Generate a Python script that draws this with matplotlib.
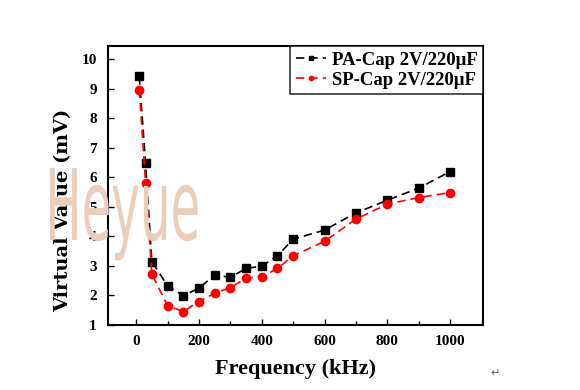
import matplotlib
matplotlib.use("Agg")
import matplotlib.pyplot as plt
import matplotlib.patheffects as pe
from matplotlib.transforms import Affine2D
from matplotlib.ticker import MultipleLocator

# frequency points (kHz)
freq = [10, 30, 50, 100, 150, 200, 250, 300, 350, 400, 450, 500, 600, 700, 800, 900, 1000]
# virtual value (mV)
pa_cap = [9.41, 6.47, 3.14, 2.33, 1.99, 2.24, 2.69, 2.61, 2.91, 2.99, 3.34, 3.90,
          4.21, 4.79, 5.22, 5.63, 6.19]
sp_cap = [8.96, 5.80, 2.72, 1.65, 1.45, 1.79, 2.07, 2.26, 2.58, 2.63, 2.91, 3.34,
          3.83, 4.58, 5.09, 5.31, 5.48]
labels = ["PA-Cap 2V/220\u03bcF", "SP-Cap 2V/220\u03bcF"]

serif = ["Liberation Serif", "DejaVu Serif"]


class Squeeze(pe.AbstractPathEffect):
    # narrows the glyphs horizontally (no narrow sans font installed)
    def __init__(self, sx):
        super().__init__()
        self.sx = sx

    def draw_path(self, renderer, gc, tpath, affine, rgbFace=None):
        renderer.draw_path(gc, tpath, Affine2D().scale(self.sx, 1) + affine, rgbFace)


fig = plt.figure(figsize=(5.8, 3.9), dpi=100)
ax = fig.add_axes([0.186, 0.167, 0.647, 0.715])

# watermark text sits behind the data
fig.text(0.078, 0.385, "Heyue", fontsize=71, color="#e9cebb", va="baseline",
         family="DejaVu Sans", zorder=0, path_effects=[Squeeze(0.49)])

ax.patch.set_alpha(0)
ax.plot(freq, pa_cap, color="black", ls=(0, (5, 3)), lw=1.2, marker="s", ms=6,
        label=labels[0])
ax.plot(freq, sp_cap, color="red", ls=(0, (5, 3)), lw=1.2, marker="o", ms=6,
        label=labels[1])

ax.set_xlim(-90, 1105)
ax.set_ylim(1, 10.44)
ax.xaxis.set_major_locator(MultipleLocator(200))
ax.xaxis.set_minor_locator(MultipleLocator(100))
ax.yaxis.set_major_locator(MultipleLocator(1))
ax.tick_params(direction="in", length=4, width=1, labelsize=11)
ax.tick_params(axis="y", pad=8)
ax.tick_params(axis="x", pad=7)
ax.tick_params(which="minor", direction="in", length=3, width=1)
for lab in ax.get_xticklabels() + ax.get_yticklabels():
    lab.set_family(serif)
    lab.set_fontweight("bold")
for s in ax.spines.values():
    s.set_linewidth(1.5)

ax.set_xlabel("Frequency (kHz)", family=serif, fontweight="bold", fontsize=16, labelpad=8)
ax.set_ylabel("Virtual Value (mV)", family="DejaVu Serif", fontweight="bold", fontsize=14)
ax.yaxis.set_label_coords(-0.096, 0.41)

leg = ax.legend(loc="upper right", borderaxespad=0, fancybox=False, handlelength=1.6,
                markerscale=0.5, prop={"family": serif, "weight": "bold", "size": 13.5},
                borderpad=0.3, labelspacing=0.15, handletextpad=0.3)
leg.get_frame().set_edgecolor("black")
leg.get_frame().set_linewidth(1.2)

fig.text(0.845, 0.035, "\u21b5", fontsize=8, color="#666666", family="DejaVu Sans")

fig.savefig("out.png", dpi=100)
